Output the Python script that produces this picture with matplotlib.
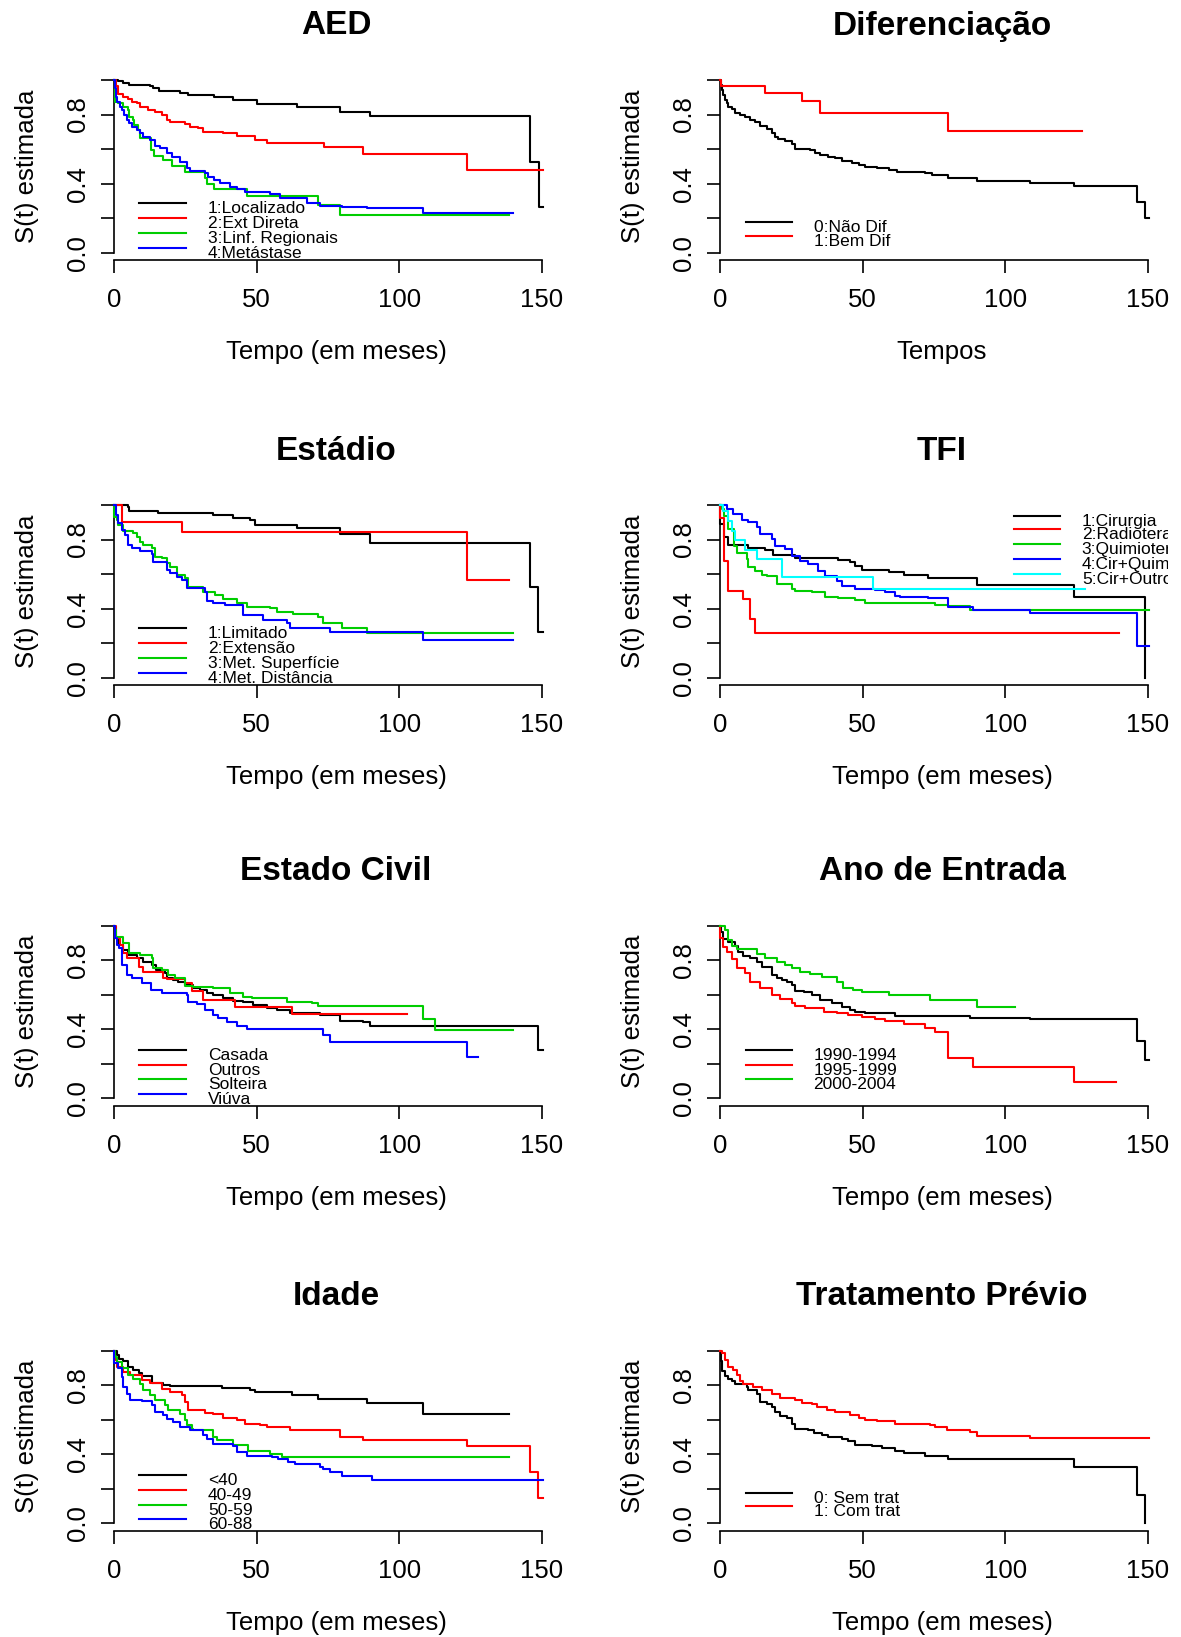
"""
Kaplan-Meier survival curves by covariate, 4x2 panel grid (R-style look).
"""
import matplotlib
matplotlib.use("Agg")
import matplotlib.pyplot as plt
from matplotlib.transforms import Bbox, TransformedBbox

plt.rcParams["font.family"] = ["Liberation Sans", "DejaVu Sans"]

# ---------------------------------------------------------------- data
# each curve: event times (months) and S(t) right after each time
aed_labels = ["1:Localizado", "2:Ext Direta", "3:Linf. Regionais", "4:Metástase"]
aed_loc_t = [0, 1.5, 3.3, 5.4, 12.6, 13.8, 15.8, 23.2, 26.1, 34.9, 41.9, 50.1, 64.1, 79.3, 89.8, 146.0, 148.9, 150.6]
aed_loc_s = [1.0, 0.994, 0.981, 0.971, 0.965, 0.954, 0.935, 0.925, 0.915, 0.903, 0.884, 0.861, 0.846, 0.817, 0.792, 0.527, 0.266, 0.266]
aed_ext_t = [0, 0.7, 1.4, 3.3, 5.0, 6.2, 8.0, 9.1, 12.0, 14.4, 16.7, 18.5, 19.6, 24.9, 26.7, 29.6, 31.3, 38.4, 43.0, 49.5,
             53.6, 73.5, 87.5, 123.7, 150.6]
aed_ext_s = [1.0, 0.967, 0.919, 0.903, 0.888, 0.874, 0.865, 0.846, 0.826, 0.817, 0.797, 0.768, 0.758, 0.745, 0.73, 0.72,
             0.70, 0.691, 0.678, 0.653, 0.637, 0.61, 0.571, 0.479, 0.479]
aed_linf_t = [0, 0.2, 0.4, 1.5, 3.3, 5.0, 5.4, 6.8, 7.0, 8.5, 9.1, 12.9, 14.0, 17.3, 20.2, 24.9, 31.9, 32.5, 34.9, 46.5,
              71.7, 79.3, 138.7]
aed_linf_s = [1.0, 0.942, 0.875, 0.865, 0.846, 0.826, 0.788, 0.768, 0.739, 0.71, 0.662, 0.595, 0.56, 0.537, 0.504, 0.469,
              0.43, 0.396, 0.369, 0.33, 0.276, 0.218, 0.218]
aed_met_t = [0, 0.2, 0.7, 1.2, 2.1, 2.7, 3.5, 4.4, 5.4, 6.2, 8.0, 9.1, 10.3, 12.6, 14.4, 16.1, 18.5, 20.2, 23.2, 25.5,
             26.7, 31.9, 33.1, 34.9, 37.2, 40.7, 43.0, 46.0, 54.7, 58.2, 67.6, 72.3, 79.9, 88.7, 108.5, 139.9]
aed_met_s = [1.0, 0.952, 0.903, 0.875, 0.846, 0.826, 0.797, 0.768, 0.749, 0.73, 0.71, 0.695, 0.672, 0.653, 0.618, 0.604,
             0.575, 0.552, 0.527, 0.488, 0.473, 0.463, 0.436, 0.421, 0.402, 0.382, 0.367, 0.353, 0.338, 0.315, 0.286,
             0.272, 0.266, 0.257, 0.228, 0.228]

dif_labels = ["0:Não Dif", "1:Bem Dif"]
dif_nao_t = [0, 0.2, 0.6, 1.2, 1.8, 2.3, 2.9, 4.1, 5.3, 7.0, 8.8, 10.5, 12.3, 14.0, 16.4, 18.1, 19.3, 20.5, 22.8, 25.2,
             26.3, 31.6, 33.3, 35.1, 38.0, 40.4, 42.7, 46.2, 48.6, 50.9, 55.0, 59.1, 62.0, 72.0, 74.3, 80.1, 90.1, 108.8,
             124.0, 146.3, 149.2, 150.6]
dif_nao_s = [1.0, 0.971, 0.942, 0.913, 0.884, 0.865, 0.846, 0.830, 0.811, 0.797, 0.784, 0.768, 0.755, 0.734, 0.714,
             0.695, 0.672, 0.656, 0.649, 0.629, 0.602, 0.595, 0.579, 0.566, 0.552, 0.546, 0.533, 0.517, 0.508, 0.498,
             0.488, 0.479, 0.469, 0.459, 0.450, 0.434, 0.415, 0.405, 0.386, 0.295, 0.199, 0.199]
dif_bem_t = [0, 0.3, 15.8, 28.9, 35.1, 80.1, 126.9]
dif_bem_s = [1.0, 0.967, 0.927, 0.88, 0.807, 0.705, 0.705]

est_labels = ["1:Limitado", "2:Extensão", "3:Met. Superfície", "4:Met. Distância"]
est_lim_t = [0, 5.0, 5.4, 15.6, 34.8, 41.9, 47.7, 49.5, 64.1, 79.3, 89.8, 145.9, 148.8, 150.6]
est_lim_s = [1.0, 0.990, 0.965, 0.952, 0.942, 0.927, 0.913, 0.884, 0.865, 0.830, 0.778, 0.527, 0.266, 0.266]
est_ext_t = [0, 2.7, 23.7, 123.7, 138.7]
est_ext_s = [1.0, 0.903, 0.846, 0.566, 0.566]
est_sup_t = [0, 0.1, 0.9, 1.5, 3.0, 6.8, 8.0, 9.1, 10.3, 13.2, 14.4, 16.7, 18.5, 19.6, 22.0, 24.9, 26.1, 31.3, 35.4,
             38.3, 43.0, 46.5, 54.7, 57.1, 62.9, 71.7, 73.4, 79.9, 88.6, 139.8]
est_sup_s = [1.0, 0.932, 0.913, 0.884, 0.849, 0.836, 0.817, 0.788, 0.768, 0.749, 0.70, 0.691, 0.662, 0.643, 0.595,
             0.575, 0.527, 0.498, 0.479, 0.454, 0.43, 0.41, 0.402, 0.382, 0.369, 0.353, 0.315, 0.286, 0.257, 0.257]
est_dist_t = [0, 0.7, 1.5, 2.7, 3.9, 5.0, 6.2, 9.1, 13.2, 13.8, 18.5, 19.6, 22.0, 23.7, 25.5, 31.9, 32.5, 34.8, 38.9,
              45.4, 52.4, 60.6, 61.7, 75.8, 108.5, 139.8]
est_dist_s = [1.0, 0.942, 0.894, 0.855, 0.826, 0.768, 0.753, 0.734, 0.714, 0.672, 0.624, 0.604, 0.585, 0.566, 0.517,
              0.498, 0.444, 0.43, 0.421, 0.363, 0.334, 0.315, 0.286, 0.266, 0.218, 0.218]

tfi_labels = ["1:Cirurgia", "2:Radioterapia", "3:Quimioterapia", "4:Cir+Quimio", "5:Cir+Outros"]
tfi_cir_t = [0, 0.1, 1.5, 2.9, 9.9, 15.8, 18.7, 26.3, 41.5, 45.6, 47.4, 49.7, 59.1, 64.4, 73.1, 90.1, 124.0, 149.2]
tfi_cir_s = [1.0, 0.89, 0.813, 0.768, 0.75, 0.739, 0.71, 0.693, 0.681, 0.668, 0.649, 0.625, 0.614, 0.597, 0.577, 0.539,
             0.469, 0.0]
tfi_rad_t = [0, 0.1, 1.5, 2.9, 8.2, 10.5, 12.1, 140.0]
tfi_rad_s = [1.0, 0.923, 0.678, 0.504, 0.456, 0.34, 0.257, 0.257]
tfi_qui_t = [0, 0.6, 1.5, 2.9, 5.0, 5.9, 9.4, 9.9, 12.3, 14.6, 16.4, 19.9, 25.2, 26.3, 32.2, 36.9, 41.5, 47.4, 50.9,
             75.5, 80.1, 87.8, 150.6]
tfi_qui_s = [1.0, 0.977, 0.938, 0.861, 0.764, 0.722, 0.687, 0.639, 0.62, 0.595, 0.587, 0.542, 0.514, 0.504, 0.494,
             0.469, 0.459, 0.45, 0.43, 0.421, 0.417, 0.392, 0.392]
tfi_cq_t = [0, 2.3, 4.7, 7.6, 9.9, 12.9, 14.0, 18.1, 19.3, 22.8, 25.2, 28.1, 31.0, 34.5, 36.9, 41.0, 42.7, 47.4, 54.4,
            57.9, 61.4, 63.2, 73.1, 80.1, 88.9, 108.8, 146.3, 150.6]
tfi_cq_s = [1.0, 0.977, 0.948, 0.915, 0.903, 0.871, 0.832, 0.803, 0.764, 0.745, 0.707, 0.678, 0.66, 0.62, 0.591, 0.562,
            0.533, 0.514, 0.51, 0.494, 0.475, 0.469, 0.459, 0.411, 0.392, 0.373, 0.185, 0.185]
tfi_co_t = [0, 1.2, 2.9, 4.1, 5.3, 8.8, 12.9, 21.6, 53.8, 128.1]
tfi_co_s = [1.0, 0.967, 0.909, 0.851, 0.797, 0.739, 0.687, 0.581, 0.514, 0.514]

civ_labels = ["Casada", "Outros", "Solteira", "Viúva"]
civ_cas_t = [0, 0.4, 1.5, 3.3, 5.0, 8.0, 10.3, 13.2, 14.9, 17.9, 18.7, 20.8, 22.6, 24.9, 27.8, 30.2, 32.5, 34.8, 38.3,
             41.9, 45.4, 48.9, 53.6, 57.1, 61.7, 72.3, 79.3, 87.5, 89.8, 148.8, 150.6]
civ_cas_s = [1.0, 0.927, 0.889, 0.859, 0.830, 0.811, 0.788, 0.772, 0.743, 0.724, 0.699, 0.686, 0.676, 0.656, 0.637,
             0.627, 0.608, 0.598, 0.583, 0.564, 0.556, 0.541, 0.521, 0.512, 0.492, 0.483, 0.448, 0.440, 0.419, 0.28, 0.28]
civ_out_t = [0, 0.7, 2.1, 3.3, 4.4, 8.9, 10.3, 17.3, 18.7, 24.9, 27.2, 31.3, 42.4, 62.3, 102.7]
civ_out_s = [1.0, 0.927, 0.889, 0.84, 0.811, 0.763, 0.73, 0.695, 0.691, 0.666, 0.622, 0.569, 0.531, 0.486, 0.486]
civ_sol_t = [0, 0.4, 0.7, 3.3, 5.4, 9.1, 13.2, 13.8, 16.7, 19.1, 21.4, 24.9, 27.8, 34.8, 40.7, 45.4, 48.3, 60.6, 69.3,
             71.7, 108.5, 112.6, 139.8]
civ_sol_s = [1.0, 0.975, 0.936, 0.898, 0.84, 0.83, 0.811, 0.753, 0.743, 0.714, 0.695, 0.651, 0.647, 0.637, 0.608, 0.589,
             0.579, 0.560, 0.550, 0.535, 0.459, 0.396, 0.396]
civ_viu_t = [0, 0.2, 0.9, 1.9, 2.7, 4.7, 6.2, 9.7, 12.9, 16.7, 25.5, 26.1, 29.0, 31.9, 34.8, 36.6, 39.5, 43.0, 46.5,
             73.4, 75.8, 123.7, 127.8]
civ_viu_s = [1.0, 0.927, 0.889, 0.869, 0.772, 0.714, 0.695, 0.666, 0.627, 0.608, 0.598, 0.556, 0.544, 0.511, 0.483,
             0.463, 0.444, 0.421, 0.4, 0.367, 0.328, 0.241, 0.241]

ano_labels = ["1990-1994", "1995-1999", "2000-2004"]
ano_90_t = [0, 0.2, 1.2, 2.9, 5.3, 6.4, 8.2, 10.5, 12.9, 14.6, 18.1, 18.4, 19.9, 21.6, 23.4, 25.2, 26.3, 29.3, 32.2,
            35.1, 39.2, 42.7, 45.6, 47.4, 50.9, 61.4, 87.8, 108.8, 146.3, 149.2, 150.6]
ano_90_s = [1.0, 0.965, 0.923, 0.907, 0.88, 0.849, 0.826, 0.811, 0.788, 0.759, 0.749, 0.714, 0.699, 0.685, 0.676, 0.656,
            0.622, 0.614, 0.598, 0.569, 0.55, 0.531, 0.512, 0.502, 0.492, 0.479, 0.467, 0.458, 0.334, 0.222, 0.222]
ano_95_t = [0, 0.1, 1.2, 2.3, 4.1, 5.9, 8.8, 10.5, 14.0, 18.1, 21.1, 25.2, 26.3, 29.8, 36.3, 41.0, 45.0, 49.7, 54.4,
            57.9, 64.4, 72.0, 75.5, 80.1, 88.9, 124.0, 138.9]
ano_95_s = [1.0, 0.927, 0.874, 0.846, 0.807, 0.753, 0.724, 0.676, 0.637, 0.598, 0.575, 0.55, 0.537, 0.521, 0.502, 0.492,
            0.483, 0.473, 0.459, 0.448, 0.432, 0.405, 0.382, 0.232, 0.183, 0.093, 0.093]
ano_00_t = [0, 1.8, 2.9, 4.1, 5.9, 12.9, 15.8, 19.9, 22.8, 25.2, 28.1, 31.6, 35.7, 41.0, 43.3, 46.8, 49.7, 59.1, 73.7,
            90.1, 103.3]
ano_00_s = [1.0, 0.977, 0.917, 0.88, 0.865, 0.836, 0.811, 0.788, 0.772, 0.753, 0.734, 0.718, 0.705, 0.676, 0.639, 0.627,
            0.614, 0.598, 0.569, 0.531, 0.531]

ida_labels = ["<40", "40-49", "50-59", "60-88"]
ida_40_t = [0, 0.9, 1.9, 3.3, 5.0, 6.8, 8.9, 9.7, 13.2, 17.3, 19.6, 37.8, 47.7, 49.5, 62.3, 71.7, 88.6, 108.5, 138.7]
ida_40_s = [1.0, 0.975, 0.95, 0.942, 0.903, 0.888, 0.872, 0.853, 0.814, 0.804, 0.795, 0.785, 0.771, 0.758, 0.742, 0.719,
            0.70, 0.636, 0.636]
ida_49_t = [0, 0.2, 1.2, 3.3, 5.6, 9.7, 12.6, 16.7, 19.6, 23.7, 24.9, 26.1, 31.9, 34.8, 38.3, 43.0, 45.9, 51.2, 53.5,
            61.7, 79.3, 87.5, 123.7, 145.9, 148.8, 150.4]
ida_49_s = [1.0, 0.946, 0.907, 0.878, 0.859, 0.829, 0.814, 0.781, 0.762, 0.742, 0.703, 0.655, 0.640, 0.632, 0.612, 0.597,
            0.578, 0.568, 0.558, 0.543, 0.50, 0.484, 0.446, 0.297, 0.147, 0.147]
ida_59_t = [0, 0.4, 0.9, 2.7, 5.0, 6.8, 9.1, 10.3, 12.6, 14.4, 17.9, 19.1, 23.2, 24.9, 25.5, 27.2, 27.8, 34.8, 36.0,
            41.9, 47.1, 54.7, 58.8, 138.7]
ida_59_s = [1.0, 0.965, 0.936, 0.897, 0.859, 0.839, 0.81, 0.771, 0.742, 0.713, 0.684, 0.655, 0.636, 0.597, 0.568, 0.548,
            0.539, 0.50, 0.481, 0.452, 0.422, 0.403, 0.384, 0.384]
ida_88_t = [0, 0.1, 1.5, 2.7, 3.3, 4.4, 5.6, 9.7, 13.2, 14.4, 17.3, 18.5, 20.8, 23.2, 26.7, 31.3, 32.5, 34.8, 41.9,
            43.0, 46.5, 55.3, 57.6, 61.1, 63.5, 72.3, 73.4, 75.8, 79.9, 90.4, 150.6]
ida_88_s = [1.0, 0.926, 0.897, 0.849, 0.791, 0.752, 0.717, 0.707, 0.684, 0.645, 0.626, 0.607, 0.587, 0.558, 0.539, 0.51,
            0.49, 0.457, 0.446, 0.413, 0.393, 0.384, 0.374, 0.355, 0.345, 0.329, 0.316, 0.297, 0.277, 0.252, 0.252]

trt_labels = ["0: Sem trat", "1: Com trat"]
trt_sem_t = [0, 0.2, 0.8, 1.8, 2.9, 4.1, 5.3, 9.4, 9.9, 12.9, 14.0, 16.4, 18.1, 19.3, 21.1, 23.4, 25.2, 26.3, 31.0,
             32.8, 35.7, 38.0, 42.7, 45.0, 47.4, 53.2, 56.7, 61.4, 64.4, 72.0, 73.7, 80.1, 124.0, 146.3, 149.2]
trt_sem_s = [1.0, 0.942, 0.884, 0.855, 0.836, 0.826, 0.81, 0.791, 0.771, 0.752, 0.703, 0.690, 0.674, 0.647, 0.622,
             0.612, 0.578, 0.549, 0.543, 0.523, 0.510, 0.50, 0.490, 0.477, 0.455, 0.446, 0.438, 0.422, 0.407, 0.393,
             0.388, 0.372, 0.326, 0.165, 0.0]
trt_com_t = [0, 0.6, 1.8, 2.9, 4.7, 5.9, 7.0, 8.2, 11.7, 14.6, 18.1, 21.1, 26.3, 28.7, 32.2, 33.9, 37.4, 40.4, 45.6,
             48.6, 50.9, 55.0, 61.4, 73.7, 75.5, 79.6, 87.8, 90.1, 108.8, 150.6]
trt_com_s = [1.0, 0.984, 0.946, 0.907, 0.888, 0.859, 0.822, 0.806, 0.791, 0.771, 0.752, 0.729, 0.713, 0.70, 0.690,
             0.674, 0.655, 0.645, 0.626, 0.612, 0.597, 0.591, 0.578, 0.568, 0.558, 0.543, 0.527, 0.504, 0.494, 0.494]

# ---------------------------------------------------------------- layout
W, H = 1181, 1637
COLORS = ["black", "#FF0000", "#00CD00", "#0000FF", "#00FFFF"]
PX_T = (541.7 - 114) / 150      # pixels per month
PX_S = 172.7                     # pixels per unit of S(t)
XLIM = (0, 152)
YLIM = (-0.042, 1.03)
COL_X0 = [114, 720]              # pixel of t=0
ROW_Y1 = [80, 505, 925.7, 1350.7]  # pixel of S=1

panels = [
    dict(title="AED", xlabel="Tempo (em meses)", labels=aed_labels,
         curves=[(aed_loc_t, aed_loc_s), (aed_ext_t, aed_ext_s), (aed_linf_t, aed_linf_s), (aed_met_t, aed_met_s)],
         leg_y=[0.286, 0.203, 0.116, 0.030], leg_x=(8.9, 25.1, 32.9)),
    dict(title="Diferenciação", xlabel="Tempos", labels=dif_labels,
         curves=[(dif_nao_t, dif_nao_s), (dif_bem_t, dif_bem_s)],
         leg_y=[0.18, 0.098], leg_x=(9.0, 25.2, 32.8)),
    dict(title="Estádio", xlabel="Tempo (em meses)", labels=est_labels,
         curves=[(est_lim_t, est_lim_s), (est_ext_t, est_ext_s), (est_sup_t, est_sup_s), (est_dist_t, est_dist_s)],
         leg_y=[0.286, 0.203, 0.116, 0.030], leg_x=(8.9, 25.1, 32.9)),
    dict(title="TFI", xlabel="Tempo (em meses)", labels=tfi_labels,
         curves=[(tfi_cir_t, tfi_cir_s), (tfi_rad_t, tfi_rad_s), (tfi_qui_t, tfi_qui_s),
                 (tfi_cq_t, tfi_cq_s), (tfi_co_t, tfi_co_s)],
         leg_y=[0.938, 0.859, 0.772, 0.685, 0.602], leg_x=(103.0, 119.1, 126.9)),
    dict(title="Estado Civil", xlabel="Tempo (em meses)", labels=civ_labels,
         curves=[(civ_cas_t, civ_cas_s), (civ_out_t, civ_out_s), (civ_sol_t, civ_sol_s), (civ_viu_t, civ_viu_s)],
         leg_y=[0.28, 0.193, 0.112, 0.025], leg_x=(8.9, 25.1, 32.9)),
    dict(title="Ano de Entrada", xlabel="Tempo (em meses)", labels=ano_labels,
         curves=[(ano_90_t, ano_90_s), (ano_95_t, ano_95_s), (ano_00_t, ano_00_s)],
         leg_y=[0.28, 0.195, 0.112], leg_x=(9.0, 25.2, 32.8)),
    dict(title="Idade", xlabel="Tempo (em meses)", labels=ida_labels,
         curves=[(ida_40_t, ida_40_s), (ida_49_t, ida_49_s), (ida_59_t, ida_59_s), (ida_88_t, ida_88_s)],
         leg_y=[0.278, 0.193, 0.108, 0.025], leg_x=(8.9, 25.1, 32.9)),
    dict(title="Tratamento Prévio", xlabel="Tempo (em meses)", labels=trt_labels,
         curves=[(trt_sem_t, trt_sem_s), (trt_com_t, trt_com_s)],
         leg_y=[0.176, 0.098], leg_x=(9.0, 25.2, 32.8)),
]

fig = plt.figure(figsize=(W / 100, H / 100), dpi=100)
fig.patch.set_facecolor("white")
# R clips legend text at the figure region edge, slightly inside the image border
clip_box = TransformedBbox(Bbox.from_extents(0, 0, 1168 / W, 1), fig.transFigure)


def fig_text(x, y, s, **kw):
    fig.text(x / W, 1 - y / H, s, ha="center", va="center", **kw)


for i, p in enumerate(panels):
    x0 = COL_X0[i % 2]
    y1 = ROW_Y1[i // 2]
    left, right = x0, x0 + XLIM[1] * PX_T
    top = y1 - (YLIM[1] - 1) * PX_S
    bottom = y1 + (1 - YLIM[0]) * PX_S
    ax = fig.add_axes([left / W, 1 - bottom / H, (right - left) / W, (bottom - top) / H])
    ax.set_xlim(*XLIM)
    ax.set_ylim(*YLIM)
    ax.patch.set_alpha(0)

    for k, (t, s) in enumerate(p["curves"]):
        ax.step(t, s, where="post", color=COLORS[k], lw=1.5, clip_on=False, zorder=3)

    # R style axes: detached bottom axis, no box
    for side in ("top", "right"):
        ax.spines[side].set_visible(False)
    ax.spines["left"].set_bounds(0, 1)
    ax.spines["bottom"].set_bounds(0, 150)
    for side in ("left", "bottom"):
        ax.spines[side].set_linewidth(1.2)
    ax.set_xticks([0, 50, 100, 150])
    ax.set_xticklabels(["0", "50", "100", "150"])
    ax.set_yticks([0, 0.2, 0.4, 0.6, 0.8, 1.0])
    ax.set_yticklabels(["0.0", "", "0.4", "", "0.8", ""], rotation=90, va="center")
    ax.tick_params(axis="both", direction="out", length=9.5, width=1.2, labelsize=18.5, color="black")
    ax.tick_params(axis="x", pad=11)
    ax.tick_params(axis="y", pad=7.5)

    # legend drawn by hand, as in R's legend() output
    lx0, lx1, tx = p["leg_x"]
    for k, (lab, ly) in enumerate(zip(p["labels"], p["leg_y"])):
        ax.plot([lx0, lx1], [ly, ly], color=COLORS[k], lw=1.5, clip_on=False)
        txt = ax.text(tx, ly - 0.058, lab, fontsize=12.5, ha="left", va="baseline")
        txt.set_clip_path(None)
        txt.set_clip_box(clip_box)
        txt.set_clip_on(True)

    fig_text(x0 + 222, y1 - 54, p["title"], fontsize=24, fontweight="bold")
    fig_text(x0 + 222, y1 + 272, p["xlabel"], fontsize=18.5)
    fig_text(x0 - 87, y1 + 86, "S(t) estimada", fontsize=18.5, rotation=90)

fig.savefig("out.png", dpi=100)
